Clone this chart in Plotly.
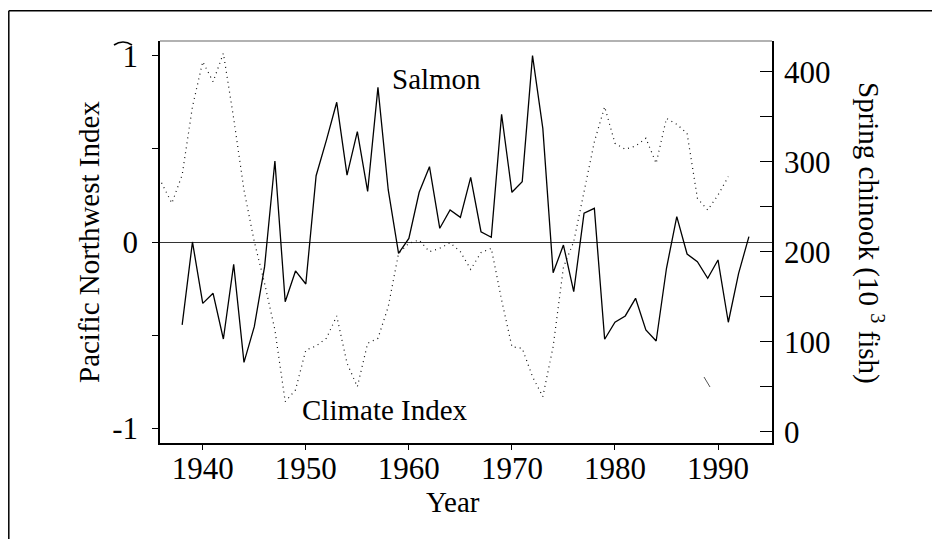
import plotly.graph_objects as go

# ---- data ----
salmon_years = list(range(1938, 1994))
salmon_fish = [118.6, 210.8, 142.6, 153.8, 103.0, 186.0, 77.0, 116.7, 183.4, 300.8,
               144.4, 178.6, 164.1, 284.4, 324.0, 366.0, 285.0, 333.3, 266.9, 382.6,
               268.6, 198.2, 214.8, 266.0, 294.5, 226.0, 246.3, 238.2, 282.6, 222.2,
               216.0, 352.6, 266.0, 277.8, 417.8, 337.0, 176.7, 207.4, 155.6, 242.7,
               248.2, 102.7, 121.6, 128.6, 148.2, 113.0, 100.8, 181.6, 238.9, 197.4,
               188.9, 170.4, 190.8, 121.6, 176.0, 216.7]

climate_years = list(range(1936, 1992))
climate_index = [0.318, 0.208, 0.36, 0.726, 0.968, 0.86, 1.013, 0.664, 0.279, 0.002,
                 -0.222, -0.472, -0.857, -0.794, -0.58, -0.558, -0.517, -0.397, -0.651, -0.777,
                 -0.544, -0.517, -0.347, -0.061, -0.007, 0.011, -0.052, -0.034, -0.004, -0.052,
                 -0.147, -0.057, -0.034, -0.311, -0.562, -0.571, -0.723, -0.83, -0.562, -0.136,
                 0.002, 0.261, 0.538, 0.726, 0.53, 0.498, 0.515, 0.557, 0.422, 0.664,
                 0.632, 0.583, 0.235, 0.172, 0.252, 0.351]

x_ticks = [1940, 1950, 1960, 1970, 1980, 1990]
left_ticks = [-1, 0, 1]
left_ticktext = ["-1", "0", "1"]
left_minor = [-0.5, 0.5]
right_ticks = [0, 100, 200, 300, 400]
right_minor = [50, 150, 250, 350]

FONT = "Liberation Serif, Times New Roman, serif"

# plot-area geometry in page pixels (page has an 8px body margin)
OFF = 8
L, T, W, H = 160, 41, 612, 402


def px(xp):
    return (xp - L) / W


def py(yp):
    return (T + H - yp) / H


fig = go.Figure()
fig.add_trace(go.Scatter(x=climate_years, y=climate_index, mode="lines",
                         line=dict(color="#111", width=1.2, dash="1px,4px"),
                         yaxis="y", name="Climate Index"))
fig.add_trace(go.Scatter(x=salmon_years, y=salmon_fish, mode="lines",
                         line=dict(color="black", width=1.3),
                         yaxis="y2", name="Salmon"))

axis_font = dict(family=FONT, size=31, color="black")

fig.update_layout(
    width=940, height=539,
    margin=dict(l=L - OFF, r=940 - (L - OFF) - W, t=T - OFF, b=539 - (T - OFF) - H),
    paper_bgcolor="white", plot_bgcolor="white",
    showlegend=False,
    font=dict(family=FONT, color="black"),
    xaxis=dict(range=[1935.85, 1995.24], tickvals=x_ticks, ticks="outside", ticklen=5,
               tickcolor="black", showline=True, linecolor="black", linewidth=1.5,
               showgrid=False, zeroline=False, tickfont=axis_font, ticklabelstandoff=-8),
    yaxis=dict(range=[-1.079, 1.079], tickvals=left_ticks, ticktext=left_ticktext,
               ticks="outside", ticklen=6, tickcolor="black", showline=True,
               linecolor="black", linewidth=1.5, showgrid=False,
               minor=dict(tickvals=left_minor, ticks="outside", ticklen=6,
                          tickcolor="black", showgrid=False),
               zeroline=True, zerolinecolor="#333", zerolinewidth=1,
               tickfont=axis_font, ticklabelstandoff=8),
    yaxis2=dict(range=[-12.56, 434.1], overlaying="y", side="right", anchor="x",
                tickvals=right_ticks,
                ticks="inside", ticklen=12, tickcolor="black", showline=True,
                linecolor="black", linewidth=1.5, showgrid=False, zeroline=False,
                minor=dict(tickvals=right_minor, ticks="inside", ticklen=12,
                           tickcolor="black", showgrid=False),
                tickfont=axis_font, ticklabelstandoff=4),
)

ann_font = dict(family=FONT, size=29, color="black")
fig.add_annotation(text="Salmon", x=px(436), y=py(79), xref="paper", yref="paper",
                   showarrow=False, font=ann_font, xanchor="center", yanchor="middle")
fig.add_annotation(text="Climate Index", x=px(385), y=py(410), xref="paper", yref="paper",
                   showarrow=False, font=ann_font, xanchor="center", yanchor="middle")
fig.add_annotation(text="Year", x=px(453), y=py(502), xref="paper", yref="paper",
                   showarrow=False, font=ann_font, xanchor="center", yanchor="middle")
fig.add_annotation(text="Pacific Northwest Index", x=px(89), y=py(242), xref="paper",
                   yref="paper", showarrow=False, font=ann_font, textangle=-90,
                   xanchor="center", yanchor="middle")
fig.add_annotation(text="Spring chinook (10 <sup>3</sup> fish)", x=px(871), y=py(233),
                   xref="paper", yref="paper", showarrow=False, font=ann_font,
                   textangle=90, xanchor="center", yanchor="middle")

# outer frame (top and left edges visible) and plot-box top edge
FRAME_X = OFF + 0.8
fig.add_shape(type="line", xref="paper", yref="paper", x0=px(FRAME_X), x1=px(960),
              y0=py(10.7), y1=py(10.7), line=dict(color="black", width=1.5))
fig.add_shape(type="line", xref="paper", yref="paper", x0=px(FRAME_X), x1=px(FRAME_X),
              y0=py(10.7), y1=py(560), line=dict(color="black", width=1.5))
fig.add_shape(type="line", xref="paper", yref="paper", x0=0, x1=1,
              y0=1, y1=1, line=dict(color="#666", width=1.2))
# small stray marks seen in the reference
fig.add_shape(type="path", xref="paper", yref="paper",
              path=f"M {px(114)},{py(45)} Q {px(123)},{py(39)} {px(132)},{py(45)}",
              line=dict(color="black", width=1.6))
fig.add_shape(type="line", xref="paper", yref="paper", x0=px(704), y0=py(377),
              x1=px(710), y1=py(387), line=dict(color="#555", width=1))

fig.write_html("out.html")
